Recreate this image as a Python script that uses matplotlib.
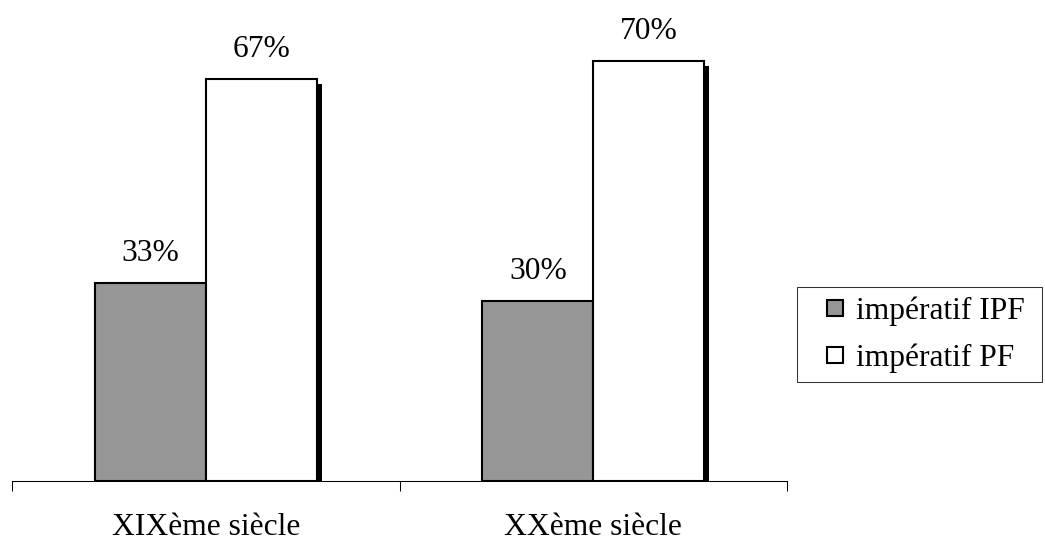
import matplotlib
matplotlib.use("Agg")
import matplotlib.pyplot as plt
from matplotlib.lines import Line2D
import matplotlib.transforms as mtransforms
import numpy as np

categories = ["XIXème siècle", "XXème siècle"]
series_names = ["impératif IPF", "impératif PF"]
ipf_values = [33, 30]
pf_values = [67, 70]
value_labels_ipf = ["33%", "30%"]
value_labels_pf = ["67%", "70%"]

plt.rcParams['font.family'] = ['Liberation Serif', 'DejaVu Serif']
FS = 22.7
DPI = 100
W, H = 1045, 539

fig = plt.figure(figsize=(W / DPI, H / DPI), dpi=DPI)
ax = fig.add_axes([12 / W, (H - 481) / H, (787 - 12) / W, 480 / H])

x = np.arange(len(categories))
bw = 0.286
gray = "#969696"

shadow = mtransforms.ScaledTranslation(5 / DPI, -5 / DPI, fig.dpi_scale_trans)
ax.bar(x + bw / 2, pf_values, bw, color="black", linewidth=0,
       transform=ax.transData + shadow, zorder=1)
ax.bar(x - bw / 2, ipf_values, bw, color=gray, edgecolor="black",
       linewidth=1.5, zorder=2)
ax.bar(x + bw / 2, pf_values, bw, color="white", edgecolor="black",
       linewidth=1.5, zorder=2)

for i in range(len(categories)):
    ax.annotate(value_labels_ipf[i], (x[i] - bw / 2, ipf_values[i]),
                xytext=(0, 15.5), textcoords="offset points",
                ha="center", va="baseline", fontsize=FS)
    ax.annotate(value_labels_pf[i], (x[i] + bw / 2, pf_values[i]),
                xytext=(0, 15.5), textcoords="offset points",
                ha="center", va="baseline", fontsize=FS)
    ax.text(x[i], -54 / 480, categories[i], transform=ax.get_xaxis_transform(),
            ha="center", va="baseline", fontsize=FS)

ax.set_xlim(-0.5, len(categories) - 0.5)
ax.set_ylim(0, 80)
for s in ["top", "right", "left"]:
    ax.spines[s].set_visible(False)
ax.spines["bottom"].set_linewidth(0.75)
ax.set_yticks([])
ax.set_xticks(np.arange(len(categories) + 1) - 0.5)
ax.set_xticklabels([])
ax.tick_params(axis="x", direction="out", length=7.2, width=0.75)
ax.patch.set_visible(False)

handles = [
    Line2D([], [], linestyle="none", marker="s", markersize=12.2,
           markerfacecolor=gray, markeredgecolor="black", markeredgewidth=1.5),
    Line2D([], [], linestyle="none", marker="s", markersize=12.2,
           markerfacecolor="white", markeredgecolor="black", markeredgewidth=1.5),
]
leg = fig.legend(handles, series_names, loc="upper left",
                 bbox_to_anchor=(797 / W, 1 - 287 / H, 245 / W, 0),
                 mode="expand", borderaxespad=0,
                 fontsize=FS, frameon=True, fancybox=False, shadow=False,
                 borderpad=0.3, handlelength=1.81, handletextpad=-0.25,
                 labelspacing=0.55)
leg.get_frame().set_edgecolor("black")
leg.get_frame().set_linewidth(0.75)

fig.savefig("out.png", dpi=DPI)
